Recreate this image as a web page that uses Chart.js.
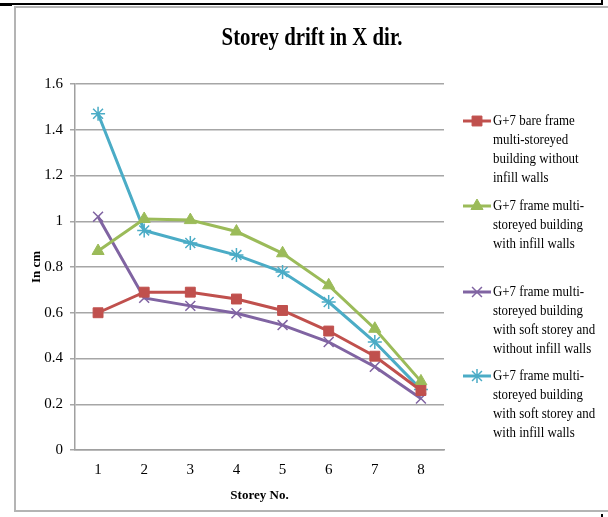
<!DOCTYPE html>
<html>
<head>
<meta charset="utf-8">
<script src="https://cdn.jsdelivr.net/npm/chart.js@4/dist/chart.umd.min.js"></script>
<style>
  html, body { margin: 0; padding: 0; background: #fff; }
  #wrap { position: relative; width: 608px; height: 517px; overflow: hidden; }
  #chart { position: absolute; left: 0; top: 0; }
  .blk { position: absolute; background: #000; }
  .gry { position: absolute; background: #b4b4b4; }
</style>
</head>
<body>
<div id="wrap">
  <canvas id="chart" width="608" height="517"></canvas>
  <!-- page frame -->
  <div class="blk" style="left:0;top:3px;width:603px;height:2px;"></div>
  <div class="blk" style="left:0;top:3px;width:12px;height:3px;"></div>
  <div class="blk" style="left:601px;top:0;width:2px;height:5px;"></div>
  <div class="blk" style="left:601px;top:514px;width:2px;height:3px;"></div>
  <div class="gry" style="left:14px;top:6px;width:594px;height:2px;"></div>
  <div class="gry" style="left:14px;top:6px;width:2px;height:506px;"></div>
  <div class="gry" style="left:14px;top:510px;width:594px;height:2px;"></div>
</div>
<script>
// --- DATA ---
const storeys = ['1', '2', '3', '4', '5', '6', '7', '8'];
const bareFrame = [0.60, 0.69, 0.69, 0.66, 0.61, 0.52, 0.41, 0.26];
const infillFrame = [0.87, 1.01, 1.005, 0.955, 0.86, 0.72, 0.53, 0.30];
const softNoInfill = [1.02, 0.665, 0.63, 0.598, 0.546, 0.472, 0.364, 0.225];
const softInfill = [1.47, 0.96, 0.905, 0.852, 0.778, 0.647, 0.472, 0.265];

const legendLines = [
    ['G+7 bare frame', 'multi-storeyed', 'building without', 'infill walls'],
    ['G+7 frame multi-', 'storeyed building', 'with infill walls'],
    ['G+7 frame multi-', 'storeyed building', 'with soft storey and', 'without infill walls'],
    ['G+7 frame multi-', 'storeyed building', 'with soft storey and', 'with infill walls']
];
const chartTitle = 'Storey drift in X dir.';
const yTitle = 'In cm';
const xTitle = 'Storey No.';

const SERIF = '"Liberation Serif", "Times New Roman", serif';

function series(data, color, style, radius, bw) {
    return {
        data: data,
        borderColor: color,
        backgroundColor: color,
        borderWidth: 3,
        pointStyle: style,
        pointRadius: radius,
        pointHoverRadius: radius,
        pointBorderWidth: bw,
        pointBackgroundColor: color,
        pointBorderColor: color,
        tension: 0
    };
}

// --- TITLE + LEGEND (drawn on the canvas) ---
const decorPlugin = {
    id: 'decor',
    afterDraw(chart) {
        const ctx = chart.ctx;
        ctx.save();
        // title, condensed like the original
        ctx.font = 'bold 26px ' + SERIF;
        ctx.fillStyle = '#000';
        ctx.textAlign = 'center';
        ctx.textBaseline = 'alphabetic';
        ctx.translate(312, 45);
        ctx.scale(0.8, 1);
        ctx.fillText(chartTitle, 0, 0);
        ctx.restore();

        // legend
        const tops = [121, 206, 292, 376];
        chart.data.datasets.forEach((ds, i) => {
            const y = tops[i];
            ctx.save();
            ctx.strokeStyle = ds.borderColor;
            ctx.lineWidth = 3;
            ctx.beginPath();
            ctx.moveTo(463, y);
            ctx.lineTo(491, y);
            ctx.stroke();
            ctx.fillStyle = ds.borderColor;
            ctx.lineWidth = ds.pointBorderWidth;
            Chart.helpers.drawPoint(ctx, {
                pointStyle: ds.pointStyle,
                radius: ds.pointRadius,
                borderWidth: ds.pointBorderWidth,
                rotation: 0
            }, 477, y);
            ctx.restore();

            ctx.save();
            ctx.font = '15px ' + SERIF;
            ctx.fillStyle = '#000';
            ctx.textAlign = 'left';
            ctx.textBaseline = 'middle';
            ctx.translate(493, y);
            ctx.scale(0.86, 1);
            legendLines[i].forEach((t, k) => ctx.fillText(t, 0, k * 19));
            ctx.restore();
        });
    }
};

new Chart(document.getElementById('chart'), {
    type: 'line',
    data: {
        labels: storeys,
        datasets: [
            series(bareFrame, '#C0504D', 'rect', 7, 1),
            series(infillFrame, '#9BBB59', 'triangle', 7, 1),
            series(softNoInfill, '#8064A2', 'crossRot', 7, 1.5),
            series(softInfill, '#4BACC6', 'star', 7, 1.5)
        ]
    },
    options: {
        responsive: false,
        animation: false,
        layout: { padding: { left: 15, right: 164, top: 84, bottom: 12 } },
        plugins: {
            legend: { display: false },
            title: { display: false },
            tooltip: { enabled: false }
        },
        scales: {
            x: {
                offset: true,
                grid: { display: false, tickLength: 0 },
                border: { color: '#a0a0a0', width: 1.5 },
                ticks: { color: '#000', font: { family: SERIF, size: 15 }, padding: 11 },
                title: { display: true, text: xTitle, color: '#000', font: { family: SERIF, size: 13, weight: 'bold' }, padding: { top: 0, bottom: 2 } },
                afterFit: s => { s.height = 55; }
            },
            y: {
                min: 0,
                max: 1.6,
                ticks: {
                    stepSize: 0.2,
                    color: '#000',
                    font: { family: SERIF, size: 15 },
                    padding: 7,
                    callback: v => String(+v.toFixed(1))
                },
                grid: { color: '#a6a6a6', lineWidth: 1.5, tickLength: 5 },
                border: { color: '#a0a0a0', width: 1.5 },
                title: { display: true, text: yTitle, color: '#000', font: { family: SERIF, size: 13, weight: 'bold' }, padding: { top: 14, bottom: 0 } },
                afterFit: s => { s.width = 60; }
            }
        }
    },
    plugins: [decorPlugin]
});
</script>
</body>
</html>
